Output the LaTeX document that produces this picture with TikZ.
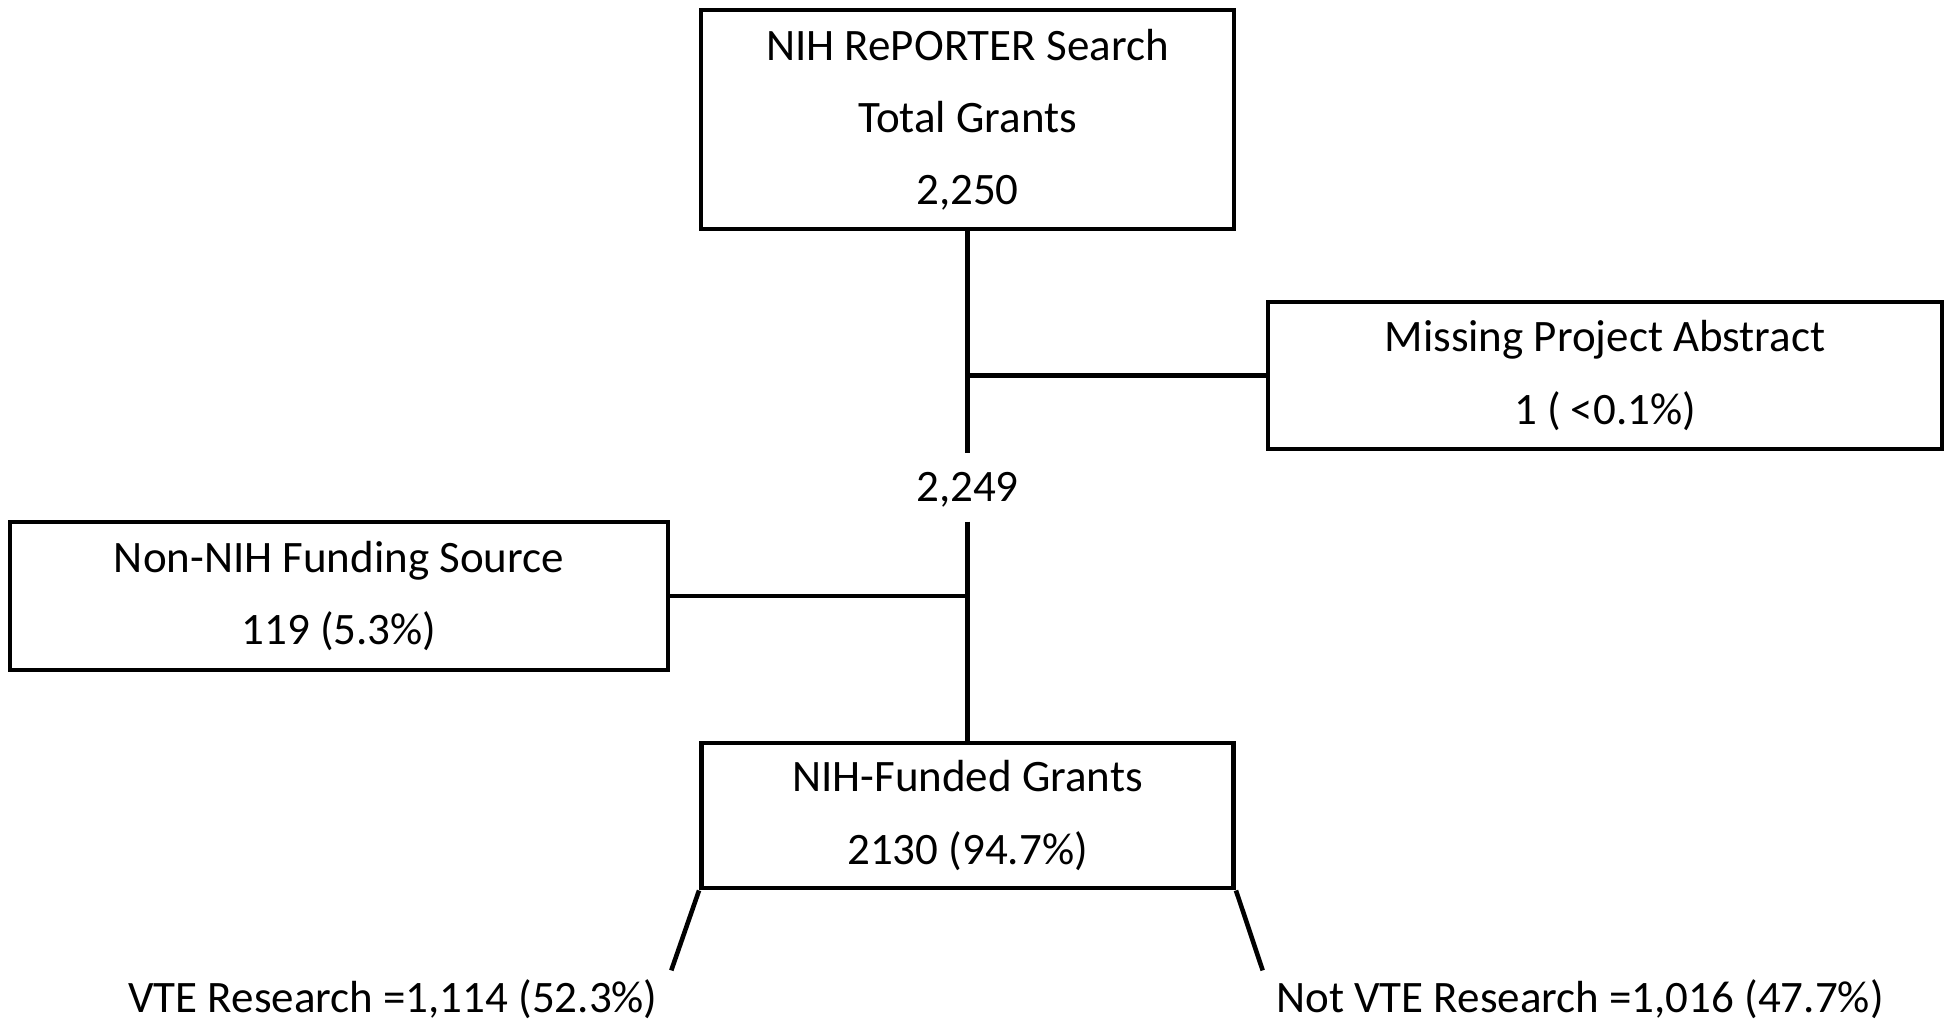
\documentclass[tikz,border=0pt]{standalone}
\usepackage{fontspec}
\setmainfont{Carlito}
\usepackage{tikz}
\usetikzlibrary{positioning}

\begin{document}
\begin{tikzpicture}[
    box/.style={rectangle, draw=black, line width=1.4pt, inner sep=0pt, align=center, font=\fontsize{12.8}{20.5}\selectfont, anchor=center},
    lbl/.style={font=\fontsize{12.8}{14}\selectfont, inner xsep=0.13cm, inner ysep=0.09cm, anchor=base},
    conn/.style={line width=1.3pt, black}
]
\useasboundingbox (0,0) rectangle (19.5,10.28);

% boxes
\node[box, minimum width=5.33cm, minimum height=2.19cm] (search) at (9.675, 9.085) {NIH RePORTER Search\\Total Grants\\2,250};
\node[box, minimum width=6.74cm, minimum height=1.47cm] (missing) at (16.05, 6.525) {Missing Project Abstract\\1 ( <0.1\%)};
\node[box, minimum width=6.58cm, minimum height=1.48cm] (nonnih) at (3.39, 4.32) {Non-NIH Funding Source\\119 (5.3\%)};
\node[box, minimum width=5.32cm, minimum height=1.45cm] (funded) at (9.675, 2.125) {NIH-Funded Grants\\2130 (94.7\%)};

% remaining count
\node[lbl, inner ysep=0.19cm, text depth=0pt] (remain) at (9.675, 5.26) {2,249};

% outcome labels
\node[lbl] (vte) at (3.93, 0.15) {VTE Research =1,114 (52.3\%)};
\node[lbl] (notvte) at (15.8, 0.15) {Not VTE Research =1,016 (47.7\%)};

% connectors
\draw[conn] (search.south) -- (remain.north);
\draw[conn] (remain.south) -- (funded.north);
\draw[conn] (search.south |- missing.west) -- (missing.west);
\draw[conn] (search.south |- nonnih.east) -- (nonnih.east);
\draw[conn] (funded.south west) -- (vte.north east);
\draw[conn] (funded.south east) -- (notvte.north west);

\end{tikzpicture}
\end{document}
